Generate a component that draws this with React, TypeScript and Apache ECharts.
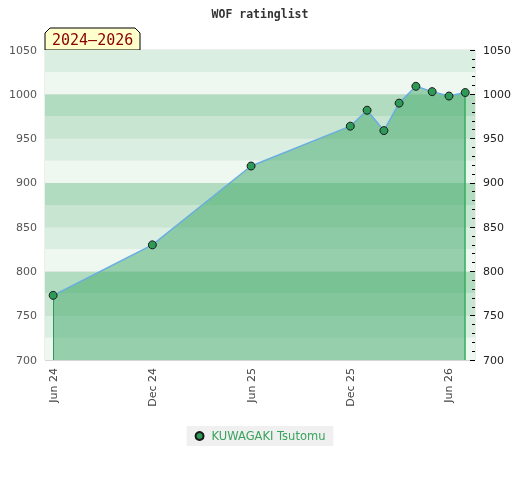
import React, { useEffect, useRef } from "react";
import * as echarts from "echarts";

// ---- data ----
const pointDates: [number, number, number][] = [
  [2024, 6, 1], [2024, 12, 1], [2025, 6, 1], [2025, 12, 1], [2026, 1, 1],
  [2026, 2, 1], [2026, 3, 1], [2026, 4, 1], [2026, 5, 1], [2026, 6, 1], [2026, 7, 1],
];
const ratings = [773, 830, 919, 964, 982, 959, 990, 1009, 1003, 998, 1002];
const xTickDates: [number, number, number][] = [
  [2024, 6, 1], [2024, 12, 1], [2025, 6, 1], [2025, 12, 1], [2026, 6, 1],
];
const yTicks = [700, 750, 800, 850, 900, 950, 1000, 1050];
const playerName = "KUWAGAKI Tsutomu";
const titleText = "WOF ratinglist";
const periodText = "2024–2026";
const xRange: [number, number, number][] = [[2024, 5, 17], [2026, 7, 19]];

const MONTHS = ["Jan", "Feb", "Mar", "Apr", "May", "Jun", "Jul", "Aug", "Sep", "Oct", "Nov", "Dec"];
const ts = (d: [number, number, number]) => Date.UTC(d[0], d[1] - 1, d[2]);

export default function App() {
  const ref = useRef<HTMLDivElement>(null);
  useEffect(() => {
    if (!ref.current) return;
    const chart = echarts.init(ref.current, null, { renderer: "svg" });
    const data = pointDates.map((d, i) => [ts(d), ratings[i]]);
    const yMin = yTicks[0];
    const yMax = yTicks[yTicks.length - 1];
    const first = data[0];
    const last = data[data.length - 1];
    const font = "DejaVu Sans";
    const plain = (v: number) => String(v);
    chart.setOption({
      animation: false,
      title: {
        text: titleText,
        left: "center",
        top: 3,
        textStyle: { fontFamily: "DejaVu Sans Mono", fontSize: 11.5, fontWeight: "bold", color: "#333" },
      },
      grid: { left: 45, right: 45, top: 50, bottom: 120, show: true, borderColor: "#dcdcdc", borderWidth: 1, backgroundColor: "transparent" },
      legend: {
        top: 426,
        left: "center",
        backgroundColor: "#f0f0f0",
        padding: [4, 8, 4, 8],
        itemWidth: 8,
        itemHeight: 8,
        itemGap: 10,
        icon: "circle",
        textStyle: { color: "#3aa35e", fontSize: 11.5, fontFamily: font, padding: [0, 0, 0, 3] },
        data: [playerName],
      },
      xAxis: {
        type: "value",
        min: ts(xRange[0]),
        max: ts(xRange[1]),
        axisLine: { show: false },
        axisTick: { show: false },
        splitLine: { show: false },
        axisLabel: {
          customValues: xTickDates.map(ts),
          rotate: 90,
          margin: 8,
          color: "#444",
          fontSize: 11,
          fontFamily: font,
          formatter: (v: number) => {
            const d = new Date(v);
            return MONTHS[d.getUTCMonth()] + " " + String(d.getUTCFullYear()).slice(2);
          },
        },
      },
      yAxis: [
        {
          type: "value", min: yMin, max: yMax, interval: 50, position: "left",
          axisLine: { show: false }, axisTick: { show: false },
          splitLine: { show: true, lineStyle: { color: "#d6d6d6", width: 1 } },
          axisLabel: { color: "#555", fontSize: 11, fontFamily: font, margin: 8, formatter: plain },
        },
        {
          type: "value", min: yMin, max: yMax, interval: 50, position: "right",
          axisLine: { show: false },
          axisTick: { show: true, inside: true, length: 5, lineStyle: { color: "#000" } },
          minorTick: { show: true, splitNumber: 5, length: 3, lineStyle: { color: "#000" } },
          splitLine: { show: false },
          axisLabel: { color: "#222", fontSize: 11, fontFamily: font, margin: 8, formatter: plain },
        },
        {
          type: "value", min: yMin, max: yMax, interval: 25, position: "left", show: true,
          axisLine: { show: false }, axisTick: { show: false }, axisLabel: { show: false },
          splitLine: { show: false },
          splitArea: { show: true, areaStyle: { color: ["#eff7f1", "#dbeee2", "#c8e5d1", "#b2dcc0"] } },
        },
      ],
      series: [
        {
          name: playerName,
          type: "line",
          yAxisIndex: 0,
          data,
          symbol: "circle",
          symbolSize: 8,
          z: 5,
          itemStyle: { color: "#2e9a58", borderColor: "#1a1a1a", borderWidth: 1 },
          lineStyle: { color: "#6aaee0", width: 1.5 },
          areaStyle: { color: "rgba(62,168,104,0.5)", opacity: 1, origin: "start" },
          markLine: {
            symbol: "none",
            silent: true,
            label: { show: false },
            data: [
              [
                { coord: [first[0], yMin], lineStyle: { color: "#2d8a4e", width: 1, type: "solid" } },
                { coord: [first[0], first[1]] },
              ],
              [
                { coord: [last[0], yMin], lineStyle: { color: "#33b060", width: 1.5, type: "solid" } },
                { coord: [last[0], last[1]] },
              ],
            ],
          },
        },
      ],
      graphic: [
        {
          type: "group",
          z: 100,
          children: [
            {
              type: "polygon",
              shape: { points: [[45, 50], [45, 33], [50, 28], [135, 28], [140, 33], [140, 50]] },
              style: { fill: "#ffffcc", stroke: "#000", lineWidth: 1 },
            },
            {
              type: "text",
              x: 52,
              y: 40,
              style: {
                text: periodText,
                fontFamily: "DejaVu Sans Mono",
                fontSize: 15,
                fill: "#8b0000",
                verticalAlign: "middle",
                align: "left",
              },
            },
          ],
        },
      ],
    });
    return () => chart.dispose();
  }, []);
  return <div ref={ref} style={{ position: "fixed", left: 0, top: 0, width: 520, height: 480 }} />;
}
